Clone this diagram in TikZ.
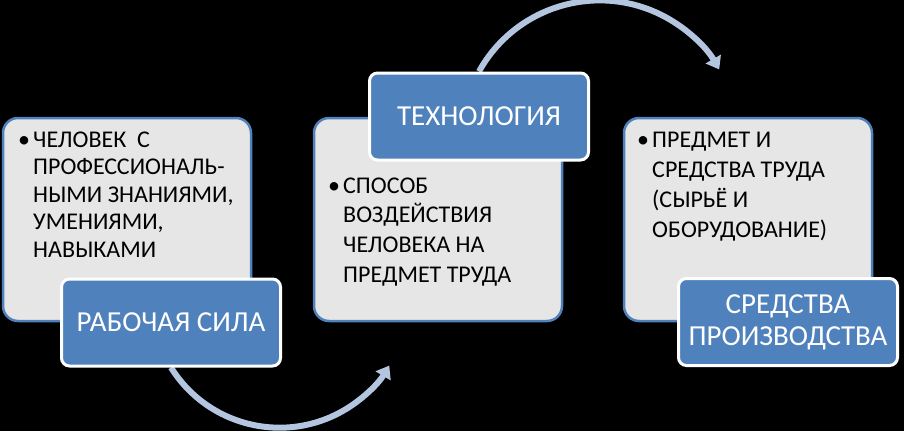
\documentclass[tikz,border=0pt]{standalone}
\usepackage{fontspec}
\setmainfont{Carlito}
\usetikzlibrary{arrows.meta,calc}
\definecolor{lblue}{HTML}{4F81BD}
\definecolor{boxgray}{HTML}{E6E6E6}
\definecolor{arrcol}{HTML}{B4C5E0}
\pgfdeclarelayer{bg}
\pgfdeclarelayer{arr}
\pgfsetlayers{bg,arr,main}
\tikzset{
  bigbox/.style={draw=lblue, line width=2.5pt, fill=boxgray, rounded corners=15pt,
    minimum width=248pt, minimum height=203pt, inner sep=0pt},
  labelbox/.style={draw=white, line width=3pt, fill=lblue, rounded corners=8pt,
    minimum width=219pt, minimum height=87pt, inner sep=0pt, text=white,
    align=center, font=\fontsize{29}{32}\selectfont},
  bodytext/.style={anchor=base west, inner sep=0pt, text=black},
  bulletmark/.style={anchor=base west, inner sep=0pt, text=black, font=\fontsize{24}{28}\selectfont},
  flowarrow/.style={draw=arrcol, line width=6pt, -{Triangle[width=17pt,length=12pt]}}
}
\begin{document}
\begin{tikzpicture}[x=1pt,y=-1pt]
\begin{pgfonlayer}{bg}
  \fill[black] (0,0) rectangle (904,431);
\end{pgfonlayer}
\useasboundingbox (0,0) rectangle (904,431);

% box 1
\node[bigbox] (b1) at (127,219.5) {};
\node[bulletmark] (u1) at (18,147) {•};
\node[bodytext] (t1) at (33,147) {\parbox[t]{215pt}{\fontsize{24}{27.6}\selectfont\raggedright
ЧЕЛОВЕК\ \ С\\ПРОФЕССИОНАЛЬ-\\НЫМИ ЗНАНИЯМИ,\\УМЕНИЯМИ,\\НАВЫКАМИ}};
\node[labelbox] (l1) at (171,322.5) {РАБОЧАЯ СИЛА};

% box 2
\node[bigbox] (b2) at (438,219.5) {};
\node[bulletmark] (u2) at (328,193) {•};
\node[bodytext] (t2) at (343,193) {\parbox[t]{210pt}{\fontsize{24}{29.7}\selectfont\raggedright
СПОСОБ\\ВОЗДЕЙСТВИЯ\\ЧЕЛОВЕКА НА\\ПРЕДМЕТ ТРУДА}};
\node[labelbox] (l2) at (479,116.5) {ТЕХНОЛОГИЯ};

% box 3
\node[bigbox] (b3) at (748,219.5) {};
\node[bulletmark] (u3) at (637,147) {•};
\node[bodytext] (t3) at (652,147) {\parbox[t]{215pt}{\fontsize{24}{30}\selectfont\raggedright
ПРЕДМЕТ И\\СРЕДСТВА ТРУДА\\(СЫРЬЁ И\\ОБОРУДОВАНИЕ)}};
\node[labelbox] (l3) at (788,322) {СРЕДСТВА\\ПРОИЗВОДСТВА};

% arrows
\begin{pgfonlayer}{arr}
  \draw[flowarrow] (l1.south) arc[start angle=148, end angle=31, radius=128];
  \draw[flowarrow] (l2.north) arc[start angle=209, end angle=330, radius=138];
\end{pgfonlayer}
\end{tikzpicture}
\end{document}
